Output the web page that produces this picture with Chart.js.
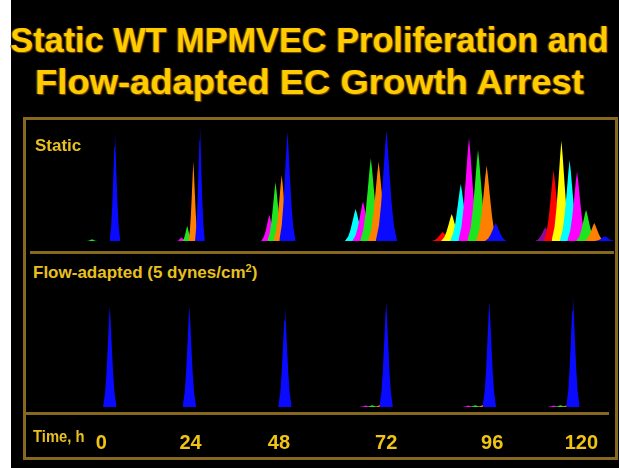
<!DOCTYPE html>
<html>
<head>
<meta charset="utf-8">
<script src="https://cdn.jsdelivr.net/npm/chart.js@4.4.1/dist/chart.umd.min.js"></script>
<style>
  html, body { margin: 0; padding: 0; background: #000; }
  body { width: 619px; height: 468px; position: relative; overflow: hidden; font-family: "Liberation Sans", Arial, sans-serif; }
  .strip { position: absolute; left: 0; top: 0; width: 11px; height: 468px; background: #fff; }
  .title { position: absolute; left: 0; width: 619px; text-align: center; font-weight: bold; font-size: 35px; line-height: 35px;
           color: #ffcc00; white-space: nowrap; text-shadow: 1px 1px 1px #7a4c00, -1px 0 1px #7a4c00; transform-origin: 310px 0; }
  .frame { position: absolute; left: 23px; top: 117px; width: 589px; height: 337px; border: 3px solid #86691f; }
  .rule { position: absolute; height: 3px; background: #86691f; }
  .lbl { position: absolute; font-weight: bold; font-size: 17px; line-height: 17px; color: #e9c11f; white-space: nowrap; }
  .lbl sup { font-size: 11px; line-height: 0; vertical-align: 6px; }
  canvas { position: absolute; }
</style>
</head>
<body>
<div class="strip"></div>
<div class="title" style="top:22px; transform: scaleX(0.98)">Static WT MPMVEC Proliferation and</div>
<div class="title" style="top:64px; transform: scaleX(1.04)">Flow-adapted EC Growth Arrest</div>
<div class="frame"></div>
<div class="rule" style="left:30px; top:251px; width:584px"></div>
<div class="rule" style="left:26px; top:412px; width:583px"></div>
<canvas id="staticChart" width="587" height="120" style="left:27px; top:121px; width:587px; height:120px"></canvas>
<canvas id="flowChart" width="587" height="171" style="left:27px; top:287px; width:587px; height:171px"></canvas>
<div class="lbl" style="left:35px; top:137px">Static</div>
<div class="lbl" style="left:33px; top:264px">Flow-adapted (5 dynes/cm<sup>2</sup>)</div>
<div class="lbl" style="left:33px; top:428px; transform: scaleX(0.87); transform-origin: left top">Time, h</div>
<script>
const timeLabels = ['0', '24', '48', '72', '96', '120'];
const genColors = ['#0a0aff', '#ff8000', '#1ee61e', '#ff00ff', '#00ffff', '#ffff00', '#ff0000', '#8c0a9a'];

// Static cultures: relative peak height (0-100) at each time point, one array per generation
const staticGen0 = [91, 97.5, 91, 92, 15, 4];          // blue, undivided
const staticGen1 = [0, 66, 55, 66, 63, 15];            // orange
const staticGen2 = [1.5, 12.5, 49, 69, 76, 26];        // green
const staticGen3 = [0, 3, 21.7, 33, 86, 58];           // magenta
const staticGen4 = [0, 0, 0, 26.7, 47.5, 67.5];        // cyan
const staticGen5 = [0, 0, 0, 0, 22.5, 83.5];           // yellow
const staticGen6 = [0, 0, 0, 0, 7.5, 59];              // red
const staticGen7 = [0, 0, 0, 0, 0, 11.5];              // purple

// where each static peak sits along the time axis (h)
const staticGen0At = [2.8, 23.5, 44.8, 68.9, 95.5, 122.1];
const staticGen1At = [null, 21.9, 43.4, 67.0, 93.3, 119.5];
const staticGen2At = [-2.8, 20.4, 41.9, 65.1, 91.2, 117.5];
const staticGen3At = [null, 19.0, 40.4, 63.2, 89.0, 115.3];
const staticGen4At = [null, null, null, 61.4, 87.0, 113.5];
const staticGen5At = [null, null, null, null, 84.8, 111.5];
const staticGen6At = [null, null, null, null, 82.6, 109.6];
const staticGen7At = [null, null, null, null, null, 107.6];

// Flow-adapted (5 dynes/cm2): almost everything stays in the undivided peak
const flowGen0 = [84, 84, 83.5, 87.7, 87.7, 93];
const flowGen1 = [0, 0, 0, 1.5, 1.5, 1.5];
const flowGen2 = [0, 0, 0, 1.5, 1.5, 1.5];
const flowGen3 = [0, 0, 0, 1.2, 1.2, 1.2];

const flowGen0At = [2.1, 22.0, 45.9, 71.2, 97.0, 117.9];
const flowGen1At = [null, null, null, 69.6, 95.3, 116.4];
const flowGen2At = [null, null, null, 67.7, 93.5, 114.8];
const flowGen3At = [null, null, null, 66.1, 91.7, 113.1];

// where the time labels sit on the axis
const tickAt = [0, 22.3, 44.4, 71.2, 97.7, 120];

// spike shape shared by every peak (fraction of half width, fraction of height)
const PROFILE_X = [-1, -0.7, -0.5, -0.3, -0.12, 0, 0.12, 0.3, 0.5, 0.7, 1];
const PROFILE_Y = [0, 0.14, 0.33, 0.6, 0.86, 1, 0.86, 0.6, 0.33, 0.14, 0];

function peakPoints(at, height, halfWidth) {
    return PROFILE_X.map((f, i) => ({ x: at + f * halfWidth, y: height * PROFILE_Y[i] }));
}

function peakDatasets(heights, positions, halfWidths) {
    const sets = [];
    heights.forEach((row, g) => {
        row.forEach((h, t) => {
            if (!h) return;
            sets.push({
                data: peakPoints(positions[g][t], h, halfWidths[t]),
                backgroundColor: genColors[g],
                borderColor: genColors[g],
                borderWidth: 0,
                fill: 'origin',
                pointRadius: 0,
                tension: 0
            });
        });
    });
    return sets;
}

function xAxis(show) {
    return {
        type: 'linear',
        display: show,
        min: -18.6,
        max: 124.3,
        afterBuildTicks: scale => { scale.ticks = tickAt.map(v => ({ value: v })); },
        afterFit: scale => { if (show) scale.height = 51; },
        grid: { display: false },
        border: { display: false },
        ticks: {
            autoSkip: false,
            maxRotation: 0,
            padding: 16,
            color: '#f0c414',
            font: { family: 'Liberation Sans', size: 20, weight: 'bold' },
            callback: (value, index) => timeLabels[index]
        }
    };
}

function baseOptions(show) {
    return {
        responsive: false,
        animation: false,
        layout: { padding: 0 },
        plugins: { legend: { display: false }, tooltip: { enabled: false } },
        scales: {
            x: xAxis(show),
            y: { display: false, min: 0, max: 100 }
        }
    };
}

new Chart(document.getElementById('staticChart'), {
    type: 'line',
    data: {
        datasets: peakDatasets(
            [staticGen0, staticGen1, staticGen2, staticGen3, staticGen4, staticGen5, staticGen6, staticGen7],
            [staticGen0At, staticGen1At, staticGen2At, staticGen3At, staticGen4At, staticGen5At, staticGen6At, staticGen7At],
            [1.3, 1.2, 2.0, 2.6, 2.6, 2.4]
        )
    },
    options: baseOptions(false)
});

new Chart(document.getElementById('flowChart'), {
    type: 'line',
    data: {
        datasets: peakDatasets(
            [flowGen0, flowGen1, flowGen2, flowGen3],
            [flowGen0At, flowGen1At, flowGen2At, flowGen3At],
            [1.7, 1.7, 1.7, 1.7, 1.7, 1.7]
        )
    },
    options: baseOptions(true)
});
</script>
</body>
</html>
